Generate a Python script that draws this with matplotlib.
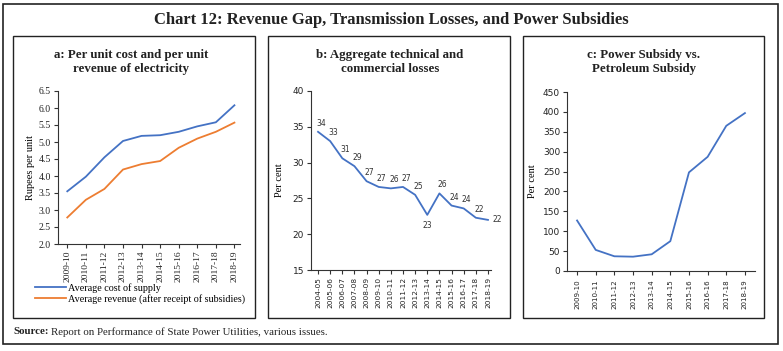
import matplotlib
matplotlib.use("Agg")
import matplotlib.pyplot as plt
from matplotlib.patches import Rectangle

years_a = ["2009-10", "2010-11", "2011-12", "2012-13", "2013-14", "2014-15",
           "2015-16", "2016-17", "2017-18", "2018-19"]
cost_supply = [3.55, 3.98, 4.55, 5.03, 5.18, 5.20, 5.30, 5.46, 5.58, 6.08]
avg_revenue = [2.78, 3.30, 3.62, 4.19, 4.35, 4.44, 4.83, 5.10, 5.30, 5.57]

years_b = ["2004-05", "2005-06", "2006-07", "2007-08", "2008-09", "2009-10",
           "2010-11", "2011-12", "2012-13", "2013-14", "2014-15", "2015-16",
           "2016-17", "2017-18", "2018-19"]
atc_losses = [34.3, 33.0, 30.6, 29.5, 27.4, 26.6, 26.4, 26.6, 25.5, 22.7,
              25.7, 24.0, 23.6, 22.3, 22.0]
atc_labels = ["34", "33", "31", "29", "27", "27", "26", "27", "25", "23",
              "26", "24", "24", "22", "22"]

years_c = ["2009-10", "2010-11", "2011-12", "2012-13", "2013-14", "2014-15",
           "2015-16", "2016-16", "2017-18", "2018-19"]
subsidy_ratio = [127, 53, 37, 36, 42, 75, 248, 287, 365, 397]

BLUE = "#4472C4"
ORANGE = "#ED7D31"
SERIF = ["Liberation Serif", "DejaVu Serif"]
SANS = ["DejaVu Sans"]

W, H = 783, 351
fig = plt.figure(figsize=(W / 100, H / 100), dpi=100)


def fx(px):
    return px / W


def fy(py):
    return 1 - py / H


def rect(x0, y0, x1, y1, lw=1.0):
    fig.patches.append(Rectangle((fx(x0), fy(y1)), fx(x1) - fx(x0), fy(y0) - fy(y1),
                                 transform=fig.transFigure, fill=False,
                                 edgecolor="#222222", linewidth=lw))


# frames
rect(3, 4, 778, 344, 1.2)
rect(13, 36, 255, 318)
rect(268, 36, 510, 318)
rect(523, 36, 764, 318)

fig.text(fx(391), fy(20), "Chart 12: Revenue Gap, Transmission Losses, and Power Subsidies",
         ha="center", va="center", fontsize=12, fontweight="bold", family=SERIF, color="#222222")

for cx, txt in [(131, "a: Per unit cost and per unit\nrevenue of electricity"),
                (390, "b: Aggregate technical and\ncommercial losses"),
                (644, "c: Power Subsidy vs.\nPetroleum Subsidy")]:
    fig.text(fx(cx), fy(62), txt, ha="center", va="center", fontsize=9.3,
             fontweight="bold", family=SERIF, color="#222222", linespacing=1.15)


def mkax(l, r, b, t):
    ax = fig.add_axes([fx(l), fy(b), fx(r) - fx(l), fy(t) - fy(b)])
    for s in ["top", "right"]:
        ax.spines[s].set_visible(False)
    for s in ["left", "bottom"]:
        ax.spines[s].set_color("#333333")
        ax.spines[s].set_linewidth(0.8)
    ax.tick_params(direction="out", length=3, width=0.8, color="#333333",
                   labelcolor="#222222", pad=2)
    ax.patch.set_alpha(0)
    return ax


# Panel a
axa = mkax(58, 240, 244, 91)
xa = list(range(len(years_a)))
l1, = axa.plot(xa, cost_supply, color=BLUE, lw=1.3)
l2, = axa.plot(xa, avg_revenue, color=ORANGE, lw=1.3)
axa.set_xlim(-0.5, 9.3)
axa.set_ylim(2.0, 6.5)
axa.set_yticks([2.0, 2.5, 3.0, 3.5, 4.0, 4.5, 5.0, 5.5, 6.0, 6.5])
axa.set_yticklabels([f"{v:.1f}" for v in axa.get_yticks()], family=SERIF, fontsize=7)
axa.set_xticks(xa)
axa.set_xticklabels(years_a, rotation=90, family=SERIF, fontsize=6.8)
axa.tick_params(axis="x", pad=1.5)
axa.set_ylabel("Rupees per unit", family=SERIF, fontsize=7.5, labelpad=3)
fig.legend([l1, l2], ["Average cost of supply", "Average revenue (after receipt of subsidies)"],
           loc="upper left", bbox_to_anchor=(fx(35), fy(283)), frameon=False,
           prop={"family": SERIF, "size": 7.3}, handlelength=3.1, handletextpad=0.15,
           labelspacing=0.12, borderaxespad=0, borderpad=0)

# Panel b
axb = mkax(311, 491, 270, 91)
xb = list(range(len(years_b)))
axb.plot(xb, atc_losses, color=BLUE, lw=1.3)
axb.set_xlim(-0.58, 14.25)
axb.set_ylim(15, 40)
axb.set_yticks([15, 20, 25, 30, 35, 40])
axb.set_yticklabels(["15", "20", "25", "30", "35", "40"], family=SANS, fontsize=6.5)
axb.set_xticks(xb)
axb.set_xticklabels(years_b, rotation=90, family=SANS, fontsize=5.3)
axb.tick_params(axis="x", pad=2)
axb.set_ylabel("Per cent", family=SERIF, fontsize=7.5, labelpad=6)
for i, (v, lab) in enumerate(zip(atc_losses, atc_labels)):
    if i == 9:
        off, va, ha = (0, -6), "top", "center"
    elif i == len(atc_losses) - 1:
        off, va, ha = (5, 0), "center", "left"
    else:
        off, va, ha = (3, 4), "bottom", "center"
    axb.annotate(lab, (i, v), xytext=off, textcoords="offset pixels",
                 ha=ha, va=va, fontsize=5.5, family=SANS, color="#333333")

# Panel c
axc = mkax(567, 755, 271, 92)
xc = list(range(len(years_c)))
axc.plot(xc, subsidy_ratio, color=BLUE, lw=1.3)
axc.set_xlim(-0.54, 9.54)
axc.set_ylim(0, 450)
axc.set_yticks(range(0, 451, 50))
axc.set_yticklabels([str(v) for v in range(0, 451, 50)], family=SANS, fontsize=6.5)
axc.set_xticks(xc)
axc.set_xticklabels(years_c, rotation=90, family=SANS, fontsize=5.1)
axc.tick_params(axis="x", pad=3)
axc.set_ylabel("Per cent", family=SERIF, fontsize=7.5, labelpad=4)

# Source
fig.text(fx(13), fy(332), "Source:", fontsize=7.8, fontweight="bold", family=SERIF,
         va="center", ha="left", color="#222222")
fig.text(fx(51), fy(332), "Report on Performance of State Power Utilities, various issues.",
         fontsize=7.8, family=SERIF, va="center", ha="left", color="#222222")

fig.savefig("out.png", dpi=100)
